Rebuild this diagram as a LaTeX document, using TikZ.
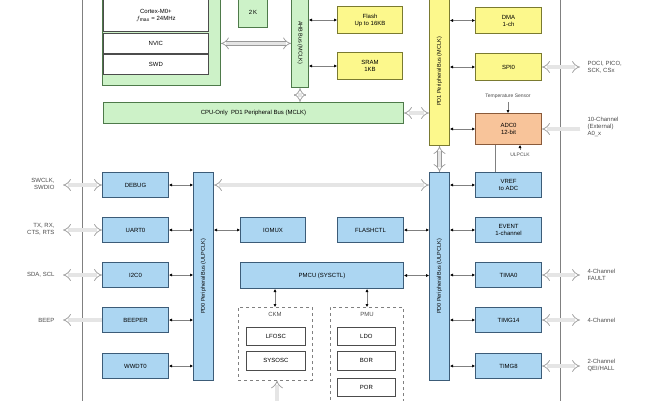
\documentclass[tikz,border=0pt]{standalone}
\usepackage{fontspec}
\setmainfont{Liberation Sans}
\usetikzlibrary{arrows.meta}
\definecolor{gf}{HTML}{CDF2C8}\definecolor{gd}{HTML}{4E7A4A}
\definecolor{yf}{HTML}{FCF88C}\definecolor{yd}{HTML}{7A7A30}
\definecolor{bf}{HTML}{ACD6F2}\definecolor{bd}{HTML}{3C5C78}
\definecolor{of}{HTML}{F8C49A}\definecolor{od}{HTML}{8A5A3A}
\begin{document}
\begin{tikzpicture}[x=1pt,y=-1pt,font=\fontsize{6}{7}\selectfont,
 box/.style={draw=#1,line width=1pt,inner sep=0pt,align=center,anchor=north west},
 gb/.style={box=gd,fill=gf}, yb/.style={box=yd,fill=yf}, bb/.style={box=bd,fill=bf},
 ob/.style={box=od,fill=of}, wb/.style={box=black!70,fill=white,line width=0.8pt},
 con/.style={gray,line width=0.5pt,{Latex[length=3pt,width=3pt,black]}-{Latex[length=3pt,width=3pt,black]}},
 one/.style={gray,line width=0.5pt,-{Latex[length=3pt,width=3pt,black]}},
 hol/.style={draw=gray!80,double=gray!20,double distance=3.5pt,line width=0.7pt,{Implies}-{Implies}},
 holr/.style={draw=gray!80,double=gray!20,double distance=3.5pt,line width=0.7pt,-{Implies}},
 lab/.style={font=\fontsize{6}{7}\selectfont,align=left,anchor=west,text=black!70},
 labr/.style={font=\fontsize{6}{7}\selectfont,align=right,anchor=east,text=black!70}]
\useasboundingbox (0,0) rectangle (650,400);
\fill[white] (0,0) rectangle (650,400);
% chip border
\draw[gray,line width=0.6pt] (82,-2) -- (82,402);
\draw[gray,line width=0.6pt] (560,-2) -- (560,402);
% CPU
\node[gb,minimum width=118pt,minimum height=88pt] (cpu) at (102,-3) {};
\node[wb,minimum width=105pt,minimum height=32pt] (core) at (103,-1) {Cortex-M0+\\$f_{\max}$ = 24MHz};
\node[wb,minimum width=105pt,minimum height=20pt] (nvic) at (103,33) {NVIC};
\node[wb,minimum width=105pt,minimum height=20pt] (swd) at (103,54) {SWD};
\node[gb,minimum width=29pt,minimum height=30pt] (rom) at (238,-3) {2\,K};
\node[gb,minimum width=17pt,minimum height=90pt] (ahb) at (291,-3) {};
\node[rotate=-90,font=\fontsize{5.5}{6}\selectfont] at (ahb.center) {AHB Bus (MCLK)};
\node[gb,minimum width=300pt,minimum height=21pt] (cpub) at (103,102) {CPU-Only\ \ PD1 Peripheral Bus (MCLK)};
\node[yb,minimum width=65pt,minimum height=27pt] (flash) at (337,6) {Flash\\Up to 16KB};
\node[yb,minimum width=65pt,minimum height=27pt] (sram) at (337,52) {SRAM\\1KB};
\node[yb,minimum width=20pt,minimum height=148pt] (pd1) at (429,-3) {};
\node[rotate=90,font=\fontsize{5.5}{6}\selectfont] at (pd1.center) {PD1 Peripheral Bus (MCLK)};
\node[yb,minimum width=66pt,minimum height=26pt] (dma) at (475,7) {DMA\\1-ch};
\node[yb,minimum width=66pt,minimum height=27pt] (spi) at (475,53) {SPI0};
\node[ob,minimum width=66pt,minimum height=31pt] (adc) at (475,113) {ADC0\\12-bit};
\node[font=\fontsize{5}{5}\selectfont,text=black!70] (ts) at (508,96) {Temperature Sensor};
\node[font=\fontsize{5}{5}\selectfont,text=black!70] (ulp) at (520,155) {ULPCLK};
\draw[hol] (cpu.east|-nvic.east) -- (ahb.west|-nvic.east);
\draw[hol] (ahb.south) -- (ahb.south|-cpub.north);
\draw[hol] (cpub.east) -- (pd1.west|-cpub.east);
\draw[con] (ahb.east|-flash.east) -- (flash.west);
\draw[con] (ahb.east|-sram.east) -- (sram.west);
\draw[con] (pd1.east|-dma.east) -- (dma.west);
\draw[con] (pd1.east|-spi.east) -- (spi.west);
\draw[con] (pd1.east|-adc.east) -- (adc.west);
\draw[one] (ts.south) -- (ts.south|-adc.north);
\draw[one] (ulp.north) -- (ulp.north|-adc.south);
% lower
\node[bb,minimum width=20pt,minimum height=208pt] (pd0l) at (193,172) {};
\node[rotate=90,font=\fontsize{5.5}{6}\selectfont] at (pd0l.center) {PD0 Peripheral Bus (ULPCLK)};
\node[bb,minimum width=20pt,minimum height=208pt] (pd0r) at (429,172) {};
\node[rotate=90,font=\fontsize{5.5}{6}\selectfont] at (pd0r.center) {PD0 Peripheral Bus (ULPCLK)};
\draw[hol] (pd1.south) -- (pd1.south|-pd0r.north);
\foreach \n/\t/\y in {dbg/DEBUG/172,uart/UART0/217,i2c/I2C0/262,beep/BEEPER/307,wwdt/WWDT0/353}{
 \node[bb,minimum width=66pt,minimum height=25pt] (\n) at (102,\y) {\t};
 \draw[con] (\n.east) -- (pd0l.west|-\n.east);}
\foreach \n/\t/\y in {vref/{VREF\\to ADC}/172,evt/{EVENT\\1-channel}/217,tima/TIMA0/262,timg/TIMG14/307,timh/TIMG8/353}{
 \node[bb,minimum width=66pt,minimum height=25pt] (\n) at (475,\y) {\t};
 \draw[con] (pd0r.east|-\n.west) -- (\n.west);}
\draw[gray,line width=0.5pt] (adc.south-|495,0) -- (vref.north-|495,0);
\draw[hol] (pd0l.east|-dbg.east) -- (pd0r.west|-dbg.east);
\node[bb,minimum width=65pt,minimum height=25pt] (iomux) at (240,217) {IOMUX};
\node[bb,minimum width=66pt,minimum height=25pt] (fctl) at (337,217) {FLASHCTL};
\node[bb,minimum width=163pt,minimum height=26pt] (pmcu) at (240,262) {PMCU (SYSCTL)};
\draw[con] (pd0l.east|-iomux.west) -- (iomux.west);
\draw[con] (fctl.east) -- (pd0r.west|-fctl.east);
\draw[con] (pmcu.east) -- (pd0r.west|-pmcu.east);
\node[draw=gray,dashed,minimum width=74pt,minimum height=73pt,anchor=north west,inner sep=0pt] (ckm) at (238,307) {};
\node[text=black!70,anchor=north] at (275,309) {CKM};
\node[wb,minimum width=59pt,minimum height=18pt] (lfosc) at (246,327) {LFOSC};
\node[wb,minimum width=59pt,minimum height=19pt] (sysosc) at (246,351) {SYSOSC};
\node[draw=gray,dashed,minimum width=73pt,minimum height=100pt,anchor=north west,inner sep=0pt] (pmu) at (330,307) {};
\node[text=black!70,anchor=north] at (367,309) {PMU};
\node[wb,minimum width=58pt,minimum height=18pt] (ldo) at (337,327) {LDO};
\node[wb,minimum width=58pt,minimum height=19pt] (bor) at (337,351) {BOR};
\node[wb,minimum width=58pt,minimum height=18pt] (por) at (337,378) {POR};
\draw[con] (pmcu.south-|275,0) -- (ckm.north-|275,0);
\draw[con] (pmcu.south-|367,0) -- (pmu.north-|367,0);
\coordinate (ckin) at (277,404);
\draw[holr] (ckin) -- (ckin|-ckm.south);
% external
\coordinate (ex) at (580,0); \coordinate (ix) at (63,0);
\draw[hol] (spi.east) -- (spi.east-|ex); \node[lab] at (584,67) {POCI, PICO,\\SCK, CSx};
\draw[holr] (adc.east-|ex) -- (adc.east); \node[lab] at (584,127) {10-Channel\\(External)\\A0\_x};
\draw[hol] (tima.east) -- (tima.east-|ex); \node[lab] at (584,275) {4-Channel\\FAULT};
\draw[hol] (timg.east) -- (timg.east-|ex); \node[lab] at (584,320) {4-Channel};
\draw[hol] (timh.east) -- (timh.east-|ex); \node[lab] at (584,365) {2-Channel\\QEI/HALL};
\draw[hol] (dbg.west-|ix) -- (dbg.west); \node[labr] at (58,184) {SWCLK,\\SWDIO};
\draw[hol] (uart.west-|ix) -- (uart.west); \node[labr] at (58,229) {TX, RX,\\CTS, RTS};
\draw[hol] (i2c.west-|ix) -- (i2c.west); \node[labr] at (58,275) {SDA, SCL};
\draw[holr] (beep.west) -- (beep.west-|ix); \node[labr] at (58,320) {BEEP};
\end{tikzpicture}
\end{document}
